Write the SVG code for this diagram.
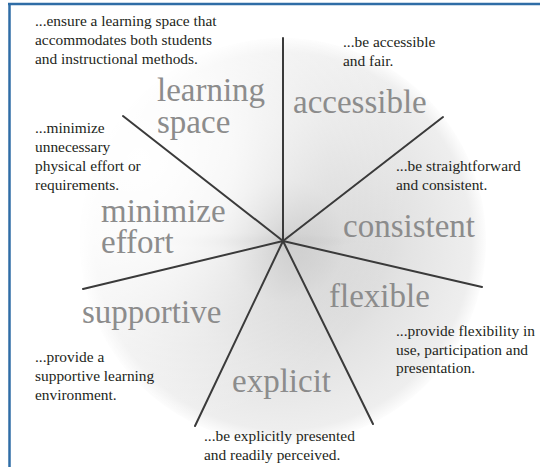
<svg xmlns="http://www.w3.org/2000/svg" width="540" height="467" viewBox="0 0 540 467">
  <defs>
    <radialGradient id="disc" cx="283" cy="241" r="205" gradientUnits="userSpaceOnUse">
      <stop offset="0" stop-color="#9a9a9a"/>
      <stop offset="0.06" stop-color="#b6b6b6"/>
      <stop offset="0.3" stop-color="#d4d4d4"/>
      <stop offset="0.6" stop-color="#e3e3e3"/>
      <stop offset="0.92" stop-color="#eeeeee"/>
      <stop offset="1" stop-color="#ffffff"/>
    </radialGradient>
    <radialGradient id="light" cx="140" cy="160" r="270" gradientUnits="userSpaceOnUse">
      <stop offset="0" stop-color="#ffffff" stop-opacity="1"/>
      <stop offset="0.35" stop-color="#ffffff" stop-opacity="0.8"/>
      <stop offset="0.7" stop-color="#ffffff" stop-opacity="0.3"/>
      <stop offset="1" stop-color="#ffffff" stop-opacity="0"/>
    </radialGradient>
    <radialGradient id="streak" cx="0.5" cy="0.5" r="0.5">
      <stop offset="0" stop-color="#808080" stop-opacity="0.18"/>
      <stop offset="1" stop-color="#808080" stop-opacity="0"/>
    </radialGradient>
    <clipPath id="discClip"><circle cx="283" cy="241" r="203"/></clipPath>
  </defs>
  <style>
    .big { font-family: 'Liberation Serif', 'DejaVu Serif', serif; font-size: 33px; fill: #8c8c8c; }
    .desc { font-family: 'Liberation Serif', 'DejaVu Serif', serif; font-size: 15.4px; fill: #231f20; }
    .spoke { stroke: #3a3a3a; stroke-width: 2; stroke-linecap: round; fill: none; }
    .frame { stroke: #2f6da6; stroke-width: 2.5; fill: none; }
  </style>
  <rect width="540" height="467" fill="#ffffff"/>
  <g id="background">
    <circle cx="283" cy="241" r="203" fill="url(#disc)"/>
    <g clip-path="url(#discClip)">
      <ellipse cx="250" cy="241" rx="110" ry="8" fill="url(#streak)"/>
      <circle cx="283" cy="241" r="203" fill="url(#light)"/>
    </g>
  </g>
  <g id="frame">
    <line class="frame" x1="8" y1="4" x2="540" y2="4"/>
    <line class="frame" x1="9.5" y1="4" x2="9.5" y2="467"/>
  </g>
  <g id="connectors">
    <line class="spoke" x1="283" y1="241" x2="283" y2="38"/>
    <line class="spoke" x1="283" y1="241" x2="443" y2="117"/>
    <line class="spoke" x1="283" y1="241" x2="482" y2="287"/>
    <line class="spoke" x1="283" y1="241" x2="373" y2="424"/>
    <line class="spoke" x1="283" y1="241" x2="195" y2="426"/>
    <line class="spoke" x1="283" y1="241" x2="83" y2="289"/>
    <line class="spoke" x1="283" y1="241" x2="123" y2="116"/>
  </g>
  <g id="node-learning-space">
    <text class="big" x="157" y="101">learning</text>
    <text class="big" x="157" y="133">space</text>
    <text class="desc"><tspan x="35" y="26">...ensure a learning space that</tspan><tspan x="35" y="45">accommodates both students</tspan><tspan x="35" y="64">and instructional methods.</tspan></text>
  </g>
  <g id="node-accessible">
    <text class="big" x="293" y="113">accessible</text>
    <text class="desc"><tspan x="343" y="47">...be accessible</tspan><tspan x="343" y="66">and fair.</tspan></text>
  </g>
  <g id="node-consistent">
    <text class="big" x="343" y="237">consistent</text>
    <text class="desc"><tspan x="396" y="171">...be straightforward</tspan><tspan x="396" y="190">and consistent.</tspan></text>
  </g>
  <g id="node-flexible">
    <text class="big" x="329" y="307">flexible</text>
    <text class="desc"><tspan x="396" y="336">...provide flexibility in</tspan><tspan x="396" y="355">use, participation and</tspan><tspan x="396" y="373">presentation.</tspan></text>
  </g>
  <g id="node-explicit">
    <text class="big" x="232" y="392">explicit</text>
    <text class="desc"><tspan x="204" y="441">...be explicitly presented</tspan><tspan x="204" y="460">and readily perceived.</tspan></text>
  </g>
  <g id="node-supportive">
    <text class="big" x="82" y="323">supportive</text>
    <text class="desc"><tspan x="35" y="362">...provide a</tspan><tspan x="35" y="381">supportive learning</tspan><tspan x="35" y="400">environment.</tspan></text>
  </g>
  <g id="node-minimize-effort">
    <text class="big" x="101" y="222">minimize</text>
    <text class="big" x="101" y="253">effort</text>
    <text class="desc"><tspan x="35" y="133">...minimize</tspan><tspan x="35" y="152">unnecessary</tspan><tspan x="35" y="171">physical effort or</tspan><tspan x="35" y="190">requirements.</tspan></text>
  </g>
</svg>
